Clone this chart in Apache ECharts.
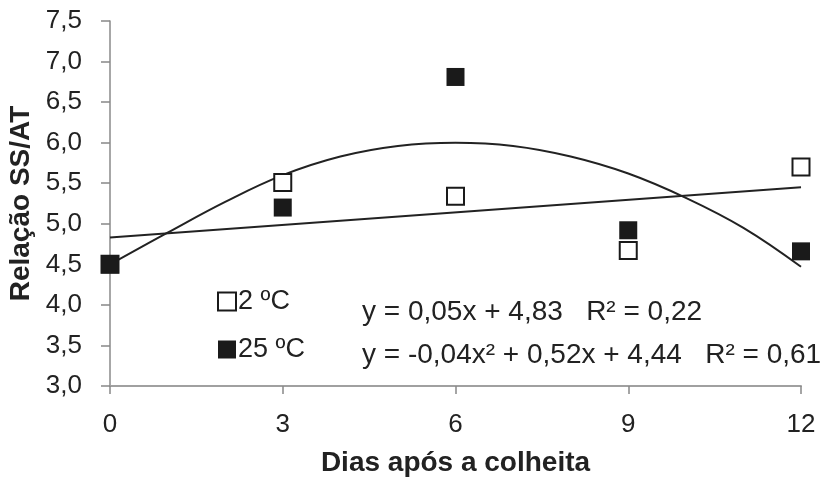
<!DOCTYPE html>
<html>
<head>
<meta charset="utf-8">
<script src="https://cdn.jsdelivr.net/npm/echarts@6/dist/echarts.min.js"></script>
<style>
html,body{margin:0;padding:0;background:#fff;}
#chart{width:827px;height:479px;}
</style>
</head>
<body>
<div id="chart"></div>
<script>
// Data
var days = [0, 3, 6, 9, 12];
var ratio2C = [4.50, 5.51, 5.34, 4.67, 5.70];
var ratio25C = [4.50, 5.20, 6.81, 4.92, 4.66];
// Linear trend line for 2 ºC (end points)
var linDays = [0, 12];
var linVals = [4.83, 5.45];
// Quadratic trend line for 25 ºC
var quadDays = [0, 1, 2, 3, 4, 5, 6, 7, 8, 9, 10, 11, 12];
var quadVals = [4.50, 4.89, 5.27, 5.60, 5.83, 5.96, 6.00, 5.96, 5.83, 5.62, 5.32, 4.95, 4.47];
var seriesNames = ['2 ºC', '25 ºC'];
var eq1 = 'y = 0,05x + 4,83   R² = 0,22';
var eq2 = 'y = -0,04x² + 0,52x + 4,44   R² = 0,61';
var xTitle = 'Dias após a colheita';
var yTitle = 'Relação SS/AT';

function pairs(xs, ys) { return xs.map(function (x, i) { return [x, ys[i]]; }); }

var FONT = '"Liberation Sans", Arial, sans-serif';
var chart = echarts.init(document.getElementById('chart'), null, {renderer: 'canvas'});
chart.setOption({
  animation: false,
  backgroundColor: '#fff',
  textStyle: {fontFamily: FONT},
  grid: {left: 110, right: 26, top: 21, bottom: 93, containLabel: false, outerBoundsMode: 'none'},
  xAxis: {
    type: 'value', min: 0, max: 12, interval: 3,
    name: xTitle, nameLocation: 'middle', nameGap: 63,
    nameTextStyle: {fontFamily: FONT, fontSize: 28, fontWeight: 'bold', color: '#222'},
    axisLine: {show: true, lineStyle: {color: '#a0a0a0', width: 2}},
    axisTick: {show: true, inside: false, length: 8, lineStyle: {color: '#888', width: 1.5}},
    axisLabel: {fontFamily: FONT, fontSize: 26, color: '#222', margin: 26},
    splitLine: {show: false}
  },
  yAxis: {
    type: 'value', min: 3, max: 7.5, interval: 0.5,
    name: yTitle, nameLocation: 'middle', nameGap: 73, nameRotate: 90,
    nameTextStyle: {fontFamily: FONT, fontSize: 28, fontWeight: 'bold', color: '#222'},
    axisLine: {show: true, onZero: false, lineStyle: {color: '#8a8a8a', width: 1.5}},
    axisTick: {show: true, inside: false, length: 9, lineStyle: {color: '#888', width: 1.5}},
    axisLabel: {fontFamily: FONT, fontSize: 26, color: '#222', margin: 28,
      formatter: function (v) { return v.toFixed(1).replace('.', ','); }},
    splitLine: {show: false}
  },
  legend: {
    show: true, orient: 'vertical', left: 217, top: 288, padding: 0,
    itemWidth: 18, itemHeight: 18, itemGap: 21,
    textStyle: {fontFamily: FONT, fontSize: 27, color: '#222', padding: [0, 0, 0, -3]},
    data: [
      {name: seriesNames[0], icon: 'rect', itemStyle: {color: '#fff', borderColor: '#1a1a1a', borderWidth: 2}},
      {name: seriesNames[1], icon: 'rect', itemStyle: {color: '#1a1a1a', borderWidth: 0}}
    ]
  },
  graphic: [
    {type: 'text', left: 362, top: 298, style: {text: eq1, font: '28px ' + FONT, fill: '#222'}},
    {type: 'text', left: 362, top: 341, style: {text: eq2, font: '28px ' + FONT, fill: '#222'}}
  ],
  series: [
    {
      name: 'lin', type: 'line', data: pairs(linDays, linVals), showSymbol: false, symbol: 'none',
      lineStyle: {color: '#222', width: 2}, z: 2, silent: true
    },
    {
      name: 'quad', type: 'line', data: pairs(quadDays, quadVals), smooth: 0.4, showSymbol: false, symbol: 'none',
      lineStyle: {color: '#222', width: 2}, z: 2, silent: true
    },
    {
      name: seriesNames[0], type: 'scatter', data: pairs(days, ratio2C), symbol: 'rect', symbolSize: 17,
      itemStyle: {color: '#fff', borderColor: '#1a1a1a', borderWidth: 2, opacity: 1}, z: 3
    },
    {
      name: seriesNames[1], type: 'scatter', data: pairs(days, ratio25C), symbol: 'rect', symbolSize: 18,
      itemStyle: {color: '#1a1a1a', opacity: 1}, z: 4
    }
  ]
});
</script>
</body>
</html>
